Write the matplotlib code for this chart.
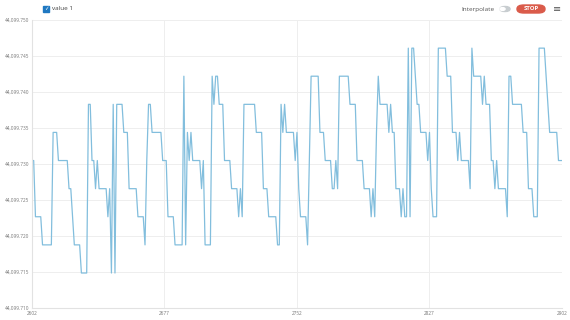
"""
Serial plotter style chart (value 1)
"""
import numpy as np
import matplotlib
matplotlib.use("Agg")
import matplotlib.pyplot as plt
import matplotlib.ticker as ticker
from matplotlib.patches import FancyBboxPatch, Rectangle, Circle

plt.rcParams["font.family"] = ["Open Sans", "DejaVu Sans"]

# data: float32 levels seen in the plot and the runs (level index, length)
levels = [44099.71484, 44099.71875, 44099.72266, 44099.72656, 44099.73047,
          44099.73438, 44099.73828, 44099.74219, 44099.74609]
run_level = [4, 2, 1, 5, 4, 3, 2, 1, 0, 6, 4, 3, 4, 3, 2, 3, 0, 6, 0, 6,
             5, 3, 2, 1, 4, 6, 5, 4, 2, 1, 7, 1, 5, 4, 5, 4, 3, 4, 1, 7,
             6, 7, 6, 4, 3, 2, 3, 2, 6, 5, 3, 2, 1, 6, 5, 6, 5, 4, 5, 3,
             2, 1, 4, 7, 5, 4, 3, 4, 3, 7, 6, 4, 3, 2, 3, 2, 5, 7, 6, 5,
             6, 5, 3, 2, 3, 2, 8, 2, 8, 7, 6, 5, 4, 5, 3, 2, 8, 7, 5, 4,
             5, 4, 3, 8, 7, 6, 7, 6, 4, 3, 4, 3, 2, 7, 6, 5, 3, 2, 8, 7,
             6, 5, 4]
run_len = [2, 4, 6, 3, 6, 2, 1, 4, 4, 2, 2, 1, 1, 5, 1, 1, 1, 1, 1, 4,
           3, 5, 4, 1, 1, 2, 6, 3, 4, 5, 1, 1, 1, 1, 1, 5, 1, 1, 4, 1,
           1, 2, 3, 4, 4, 1, 1, 1, 7, 4, 3, 5, 2, 1, 1, 1, 5, 1, 1, 1,
           4, 1, 1, 5, 3, 4, 2, 1, 1, 6, 4, 4, 4, 1, 1, 1, 1, 1, 5, 1,
           1, 2, 3, 1, 1, 2, 1, 1, 2, 1, 2, 4, 1, 1, 1, 3, 5, 3, 3, 1,
           1, 5, 1, 1, 5, 1, 1, 3, 2, 1, 1, 5, 1, 2, 6, 3, 3, 3, 4, 1,
           1, 5, 3]
x_start = 2602
x_ticks = [2602, 2677, 2752, 2827, 2902]
y_ticks = [44099.710, 44099.715, 44099.720, 44099.725, 44099.730,
           44099.735, 44099.740, 44099.745, 44099.750]

values = np.repeat(np.array(levels)[run_level], run_len)
x = np.arange(x_start, x_start + len(values))

fig = plt.figure(figsize=(5.7, 3.2), dpi=100)
ax = fig.add_axes([0.056, 0.038, 0.930, 0.8995])

ax.plot(x, values, color="#82bedd", linewidth=0.9)

ax.set_xlim(x_ticks[0], x_ticks[-1])
ax.set_ylim(y_ticks[0], y_ticks[-1])
ax.set_xticks(x_ticks)
ax.set_yticks(y_ticks)
ax.yaxis.set_major_formatter(ticker.FuncFormatter(lambda v, _: f"{v:,.3f}"))
ax.tick_params(axis="both", length=0, labelsize=3.4, colors="#777777", pad=2)
ax.grid(True, color="#eeeeee", linewidth=0.7)
for side in ("top", "right"):
    ax.spines[side].set_visible(False)
for side in ("left", "bottom"):
    ax.spines[side].set_color("#e2e2e2")
    ax.spines[side].set_linewidth(0.8)

# header: legend checkbox
fig.patches.append(Rectangle((43 / 570, 1 - 12 / 320), 6 / 570, 6 / 320,
                             transform=fig.transFigure, color="#1f78c1"))
fig.text(46 / 570, 1 - 9 / 320, "\u2713", color="white", fontsize=4,
         ha="center", va="center", family="DejaVu Sans")
fig.text(52 / 570, 1 - 9 / 320, "value 1", color="#444444", fontsize=4.6,
         ha="left", va="center")

# header: interpolate toggle, stop button, menu
fig.text(495 / 570, 1 - 9 / 320, "Interpolate", color="#555555", fontsize=4.6,
         ha="right", va="center")
fig.patches.append(FancyBboxPatch((500 / 570, 1 - 11.5 / 320), 10 / 570, 5 / 320,
                                  boxstyle="round,pad=0,rounding_size=0.008",
                                  transform=fig.transFigure, color="#c8cdd0"))
fig.patches.append(Circle((502.5 / 570, 1 - 9 / 320), 0.0045,
                          transform=fig.transFigure, color="white"))
fig.patches.append(FancyBboxPatch((517 / 570, 1 - 13 / 320), 28 / 570, 8 / 320,
                                  boxstyle="round,pad=0,rounding_size=0.012",
                                  transform=fig.transFigure, color="#da5b4a"))
fig.text(531 / 570, 1 - 9 / 320, "STOP", color="white", fontsize=4.3,
         ha="center", va="center", fontweight="bold")
fig.text(557 / 570, 1 - 9 / 320, "\u2261", color="#555555", fontsize=7,
         ha="center", va="center", family="DejaVu Sans")

fig.savefig("out.png", dpi=100)
plt.close(fig)
